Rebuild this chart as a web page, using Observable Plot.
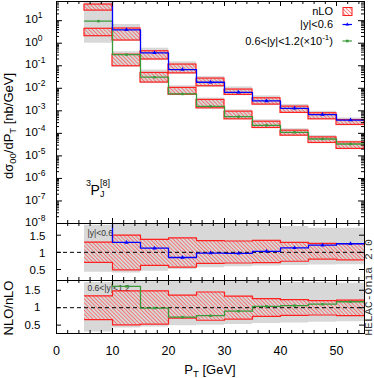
<!DOCTYPE html>
<html><head><meta charset="utf-8">
<script src="https://cdn.jsdelivr.net/npm/d3@7"></script>
<script src="https://cdn.jsdelivr.net/npm/@observablehq/plot@0.6"></script>
<style>
body{margin:0;background:#fff;}
#chart{position:relative;width:374px;height:378px;overflow:hidden;background:#fff;}
#chart svg{position:absolute;left:0;}
</style></head><body>
<svg width="0" height="0" style="position:absolute"><defs>
<pattern id="hatch" patternUnits="userSpaceOnUse" width="2.7" height="2.7" patternTransform="rotate(-45)"><line x1="1.35" y1="-1" x2="1.35" y2="4" stroke="#ff5050" stroke-width="0.7"/></pattern>
</defs></svg>
<div id="chart"></div>
<script>
// ---------- data ----------
const binLo = [5, 10, 15, 20, 25, 30, 35, 40, 45, 50];
const binWidth = 5;
const xMax = 55;
const xTickLabels = [0, 10, 20, 30, 40, 50];
const ratioTickLabels = [0.5, 1, 1.5];

// top panel, dsigma/dPT [nb/GeV]; |y|<0.6 (first bin off scale)
const nloCentral    = [300, 3.94, 0.374, 0.068, 0.0185, 0.00664, 0.00275, 0.00129, 0.00068, 0.00039];
const nLOCentralHi  = [52, 4.5, 0.44, 0.113, 0.027, 0.0088, 0.0036, 0.00154, 0.00078, 0.00039];
const nLOCentralLo  = [28, 1.32, 0.19, 0.046, 0.0123, 0.0051, 0.00189, 0.00081, 0.00042, 0.000236];
const bandCentralHi = [90, 6.8, 0.6, 0.15, 0.033, 0.0115, 0.0046, 0.0019, 0.00095, 0.00048];
const bandCentralLo = [10, 1.19, 0.17, 0.042, 0.011, 0.0047, 0.0017, 0.00075, 0.0004, 0.00022];
// 0.6<|y|<1.2 (x 0.1)
const nloForward    = [9.5, 0.31, 0.031, 0.0056, 0.00158, 0.00055, 0.000227, 0.000111, 0.0000563, 0.0000338];
const nLOForwardHi  = [4.37, 0.31, 0.048, 0.0104, 0.00305, 0.00092, 0.00033, 0.000132, 0.0000664, 0.0000398];
const nLOForwardLo  = [2.05, 0.095, 0.018, 0.0052, 0.00129, 0.00042, 0.000173, 0.000079, 0.0000374, 0.0000204];
const bandForwardHi = [12, 0.42, 0.065, 0.013, 0.0037, 0.0011, 0.0004, 0.00016, 0.00008, 0.000046];
const bandForwardLo = [1.0, 0.088, 0.016, 0.0048, 0.0012, 0.0004, 0.000165, 0.000075, 0.000036, 0.000019];

// ratio NLO/nLO, |y|<0.6 (first bin off scale)
const ratioCentral       = [3.0, 1.29, 1.12, 0.85, 0.98, 0.97, 1.03, 1.13, 1.21, 1.25];
const ratioCentralHi     = [1.30, 1.50, 1.38, 1.42, 1.34, 1.33, 1.35, 1.29, 1.26, 1.25];
const ratioCentralLo     = [0.71, 0.49, 0.62, 0.57, 0.68, 0.69, 0.70, 0.74, 0.80, 0.78];
const ratioBandCentralHi = [1.79, 1.95, 1.95, 1.95, 1.90, 1.85, 1.82, 1.75, 1.70, 1.70];
const ratioBandCentralLo = [0.42, 0.40, 0.45, 0.50, 0.55, 0.58, 0.60, 0.62, 0.63, 0.64];
// ratio NLO/nLO, 0.6<|y|<1.2
const ratioForward       = [3.0, 1.61, 0.99, 0.73, 0.77, 0.90, 1.04, 1.06, 1.10, 1.17];
const ratioForwardHi     = [1.34, 1.48, 1.48, 1.36, 1.45, 1.33, 1.26, 1.23, 1.20, 1.22];
const ratioForwardLo     = [0.66, 0.51, 0.53, 0.70, 0.64, 0.67, 0.75, 0.78, 0.79, 0.77];
const ratioBandForwardHi = [1.72, 1.85, 1.85, 1.85, 1.85, 1.85, 1.80, 1.72, 1.72, 1.70];
const ratioBandForwardLo = [0.30, 0.42, 0.45, 0.48, 0.50, 0.52, 0.55, 0.56, 0.58, 0.60];

// ---------- helpers ----------
const W = 374, ML = 56, MR = 10, AW = W - ML - MR;
const gray = "#d8d8d8", red = "#ff2020", blue = "#0000ff", green = "#3a9a3a";
const FONT = "'Liberation Sans', Arial, sans-serif";
const svgStyle = `background:transparent;overflow:visible;font-family:${FONT};`;

const rows = (lo, hi) => binLo.map((x, i) => ({x1: x, x2: x + binWidth, lo: lo[i], hi: hi[i]}));
const pts = (v) => binLo.map((x, i) => ({x: x + binWidth / 2, v: v[i]}));
const steps = (v) => binLo.map((x, i) => ({x, v: v[i]})).concat([{x: xMax, v: v[v.length - 1]}]);
const stepBand = (lo, hi) => binLo.map((x, i) => ({x, lo: lo[i], hi: hi[i]}))
  .concat([{x: xMax, lo: lo[lo.length - 1], hi: hi[hi.length - 1]}]);

function xFrameTicks(H) {
  const major = d3.range(0, xMax, 10);
  const minor = d3.range(0, xMax, 2).filter(v => v % 10 !== 0);
  const o = {stroke: "#000", strokeWidth: 1};
  return [
    Plot.tickX(major, {x: d => d, insetBottom: H - 5, ...o}),
    Plot.tickX(major, {x: d => d, insetTop: H - 5, ...o}),
    Plot.tickX(minor, {x: d => d, insetBottom: H - 3, ...o}),
    Plot.tickX(minor, {x: d => d, insetTop: H - 3, ...o})
  ];
}
function yFrameTicks(vals, len) {
  const o = {stroke: "#000", strokeWidth: 1};
  return [
    Plot.tickY(vals, {y: d => d, insetRight: AW - len, ...o}),
    Plot.tickY(vals, {y: d => d, insetLeft: AW - len, ...o})
  ];
}

// ---------- top panel ----------
const HA = 222;
const decades = d3.range(-8, 2).map(e => Math.pow(10, e));
const minorLog = [];
for (let e = -8; e <= 1; e++) for (let k = 2; k <= 9; k++) { const v = k * Math.pow(10, e); if (v < 71) minorLog.push(v); }

const plotA = Plot.plot({
  width: W, height: 232, marginLeft: ML, marginRight: MR, marginTop: 1, marginBottom: 9,
  x: {domain: [0, xMax], axis: null},
  y: {type: "log", domain: [1e-8, 71], axis: null},
  style: svgStyle,
  marks: [
    Plot.rect(rows(bandCentralLo, bandCentralHi), {x1: "x1", x2: "x2", y1: "lo", y2: "hi", fill: gray, clip: true}),
    Plot.rect(rows(bandForwardLo, bandForwardHi), {x1: "x1", x2: "x2", y1: "lo", y2: "hi", fill: gray, clip: true}),
    Plot.rect(rows(nLOCentralLo, nLOCentralHi), {x1: "x1", x2: "x2", y1: "lo", y2: "hi", fill: "url(#hatch)", stroke: red, strokeWidth: 1.2, clip: true}),
    Plot.rect(rows(nLOForwardLo, nLOForwardHi), {x1: "x1", x2: "x2", y1: "lo", y2: "hi", fill: "url(#hatch)", stroke: red, strokeWidth: 1.2, clip: true}),
    Plot.line(steps(nloForward), {x: "x", y: "v", curve: "step-after", stroke: green, strokeWidth: 1.3, clip: true}),
    Plot.line(steps(nloCentral), {x: "x", y: "v", curve: "step-after", stroke: blue, strokeWidth: 1.3, clip: true}),
    Plot.dot(pts(nloForward), {x: "x", y: "v", symbol: "square", r: 1.4, fill: green, clip: true}),
    Plot.dot(pts(nloCentral), {x: "x", y: "v", symbol: "triangle", r: 1.6, fill: blue, clip: true}),
    ...yFrameTicks(decades, 6),
    ...yFrameTicks(minorLog, 3),
    ...xFrameTicks(HA),
    Plot.frame({stroke: "#000", strokeWidth: 1}),
    Plot.text(decades, {y: d => d, text: d => `10^${Math.round(Math.log10(d))}`, frameAnchor: "left", dx: -31.5, dy: -1, textAnchor: "start", lineAnchor: "middle", fontSize: 11.5, fill: "#000"})
  ]
});

// ---------- ratio panel 1 ----------
const HB = 57;
const plotB = Plot.plot({
  width: W, height: 76, marginLeft: ML, marginRight: MR, marginTop: 10, marginBottom: 9,
  x: {domain: [0, xMax], axis: null},
  y: {domain: [0.18, 1.84], axis: null},
  style: svgStyle,
  marks: [
    Plot.areaY(stepBand(ratioBandCentralLo, ratioBandCentralHi), {x: "x", y1: "lo", y2: "hi", curve: "step-after", fill: gray, clip: true}),
    Plot.text(["|y|<0.6"], {text: d => d, frameAnchor: "top-left", dx: 31, dy: 9.5, lineAnchor: "middle", textAnchor: "start", fontSize: 8.5, fill: "#333"}),
    Plot.areaY(stepBand(ratioCentralLo, ratioCentralHi), {x: "x", y1: "lo", y2: "hi", curve: "step-after", fill: "url(#hatch)", clip: true}),
    Plot.line(steps(ratioCentralHi), {x: "x", y: "v", curve: "step-after", stroke: red, strokeWidth: 1.2, clip: true}),
    Plot.line(steps(ratioCentralLo), {x: "x", y: "v", curve: "step-after", stroke: red, strokeWidth: 1.2, clip: true}),
    Plot.ruleY([1], {stroke: "#000", strokeDasharray: "4,3", strokeWidth: 1}),
    Plot.line(steps(ratioCentral), {x: "x", y: "v", curve: "step-after", stroke: blue, strokeWidth: 1.3, clip: true}),
    Plot.dot(pts(ratioCentral), {x: "x", y: "v", symbol: "triangle", r: 1.6, fill: blue, clip: true}),
    ...yFrameTicks(ratioTickLabels, 5),
    ...xFrameTicks(HB),
    Plot.frame({stroke: "#000", strokeWidth: 1}),
    Plot.text(ratioTickLabels, {y: d => d, text: d => String(d), frameAnchor: "left", dx: -11, dy: 1, textAnchor: "end", lineAnchor: "middle", fontSize: 11.5, fill: "#000"})
  ]
});

// ---------- ratio panel 2 ----------
const HC = 53;
const plotC = Plot.plot({
  width: W, height: 108, marginLeft: ML, marginRight: MR, marginTop: 10, marginBottom: 45,
  x: {domain: [0, xMax], axis: null},
  y: {domain: [0.26, 1.78], axis: null},
  style: svgStyle,
  marks: [
    Plot.areaY(stepBand(ratioBandForwardLo, ratioBandForwardHi), {x: "x", y1: "lo", y2: "hi", curve: "step-after", fill: gray, clip: true}),
    Plot.text(["0.6<|y|<1.2"], {text: d => d, frameAnchor: "top-left", dx: 31, dy: 8, lineAnchor: "middle", textAnchor: "start", fontSize: 8.5, fill: "#333"}),
    Plot.areaY(stepBand(ratioForwardLo, ratioForwardHi), {x: "x", y1: "lo", y2: "hi", curve: "step-after", fill: "url(#hatch)", clip: true}),
    Plot.line(steps(ratioForwardHi), {x: "x", y: "v", curve: "step-after", stroke: red, strokeWidth: 1.2, clip: true}),
    Plot.line(steps(ratioForwardLo), {x: "x", y: "v", curve: "step-after", stroke: red, strokeWidth: 1.2, clip: true}),
    Plot.ruleY([1], {stroke: "#000", strokeDasharray: "4,3", strokeWidth: 1}),
    Plot.line(steps(ratioForward), {x: "x", y: "v", curve: "step-after", stroke: green, strokeWidth: 1.3, clip: true}),
    Plot.dot(pts(ratioForward), {x: "x", y: "v", symbol: "square", r: 1.4, fill: green, clip: true}),
    ...yFrameTicks(ratioTickLabels, 5),
    ...xFrameTicks(HC),
    Plot.frame({stroke: "#000", strokeWidth: 1}),
    Plot.text(ratioTickLabels, {y: d => d, text: d => String(d), frameAnchor: "left", dx: -16, textAnchor: "end", lineAnchor: "middle", fontSize: 11.5, fill: "#000"}),
    Plot.text(xTickLabels, {x: d => d, text: d => String(d), frameAnchor: "bottom", dy: 17, lineAnchor: "middle", fontSize: 12.5, fill: "#000"})
  ]
});

// superscripts for log labels
d3.select(plotA).selectAll("text").each(function () {
  const t = this.textContent;
  if (t.includes("^")) {
    const [b, e] = t.split("^");
    const s = d3.select(this);
    s.text(null);
    s.append("tspan").text(b);
    s.append("tspan").attr("dy", "-5").attr("font-size", "8.5").text(e);
  }
});

const chart = document.getElementById("chart");
plotA.style.top = "0px";
plotB.style.top = "213px";
plotC.style.top = "270px";
chart.append(plotA, plotB, plotC);

// ---------- annotations, legend ----------
const ns = "http://www.w3.org/2000/svg";
const ov = document.createElementNS(ns, "svg");
ov.setAttribute("width", W); ov.setAttribute("height", 378);
ov.style.top = "0px"; ov.style.pointerEvents = "none";
ov.setAttribute("font-family", "Liberation Sans, Arial, sans-serif");
ov.innerHTML = `
<text transform="translate(13,126) rotate(-90)" text-anchor="middle" font-size="13">dσ<tspan font-size="9.5" dy="3">00</tspan><tspan dy="-3">/dP</tspan><tspan font-size="9.5" dy="3">T</tspan><tspan dy="-3"> [nb/GeV]</tspan></text>
<text transform="translate(13,308) rotate(-90)" text-anchor="middle" font-size="13">NLO/nLO</text>
<text x="210" y="374" text-anchor="middle" font-size="13">P<tspan font-size="9.5" dy="3">T</tspan><tspan dy="-3"> [GeV]</tspan></text>
<text transform="translate(371.5,287.5) rotate(-90)" text-anchor="middle" font-size="11.5" font-family="Liberation Mono, Courier New, monospace" fill="#333">HELAC-Onia 2.0</text>
<text x="86" y="186" font-size="9">3</text>
<text x="90.5" y="195" font-size="14">P</text>
<text x="100" y="197" font-size="9">J</text>
<text x="100" y="186" font-size="9">[8]</text>
<text x="333" y="15" text-anchor="end" font-size="11">nLO</text>
<rect x="343" y="7.5" width="9" height="8" fill="url(#hatch)" stroke="${red}" stroke-width="1"/>
<text x="333" y="28" text-anchor="end" font-size="11">|y|&lt;0.6</text>
<line x1="342.5" x2="352" y1="24.5" y2="24.5" stroke="${blue}" stroke-width="1.2"/>
<path d="M347.3,22.6 L349.2,25.6 L345.4,25.6 Z" fill="${blue}"/>
<text x="333" y="44.5" text-anchor="end" font-size="11">0.6&lt;|y|&lt;1.2(×10<tspan font-size="8" dy="-4.5">-1</tspan><tspan dy="4.5">)</tspan></text>
<line x1="342.5" x2="352" y1="41" y2="41" stroke="${green}" stroke-width="1.2"/>
<rect x="346" y="39.7" width="2.6" height="2.6" fill="${green}"/>
`;
chart.append(ov);
</script>
</body></html>
